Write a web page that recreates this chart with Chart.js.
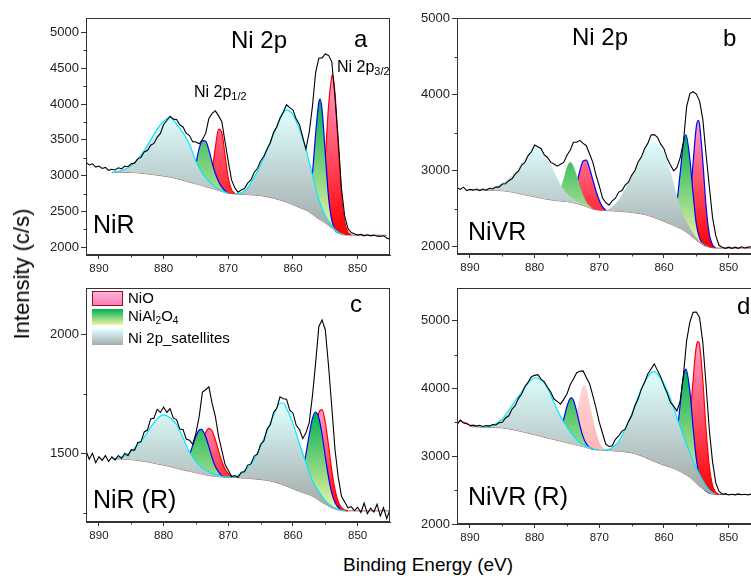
<!DOCTYPE html>
<html>
<head>
<meta charset="utf-8">
<script src="https://cdn.jsdelivr.net/npm/chart.js@4.4.0/dist/chart.umd.min.js"></script>
<style>
  body { margin: 0; width: 751px; height: 581px; overflow: hidden; background: #fff; position: relative;
         font-family: "Liberation Sans", Arial, sans-serif; }
  canvas { position: absolute; }
  .t { position: absolute; color: #000; white-space: nowrap; line-height: 1; z-index: 2; }
  .t sub { font-size: 0.68em; vertical-align: -0.3em; line-height: 0; }
  .sw { position: absolute; left: 92px; width: 31px; z-index: 2; box-sizing: border-box; }
</style>
</head>
<body>
<canvas id="pa" width="370" height="275" style="left:30px;top:0"></canvas>
<canvas id="pb" width="371" height="275" style="left:400px;top:0"></canvas>
<canvas id="pc" width="370" height="270" style="left:30px;top:275px"></canvas>
<canvas id="pd" width="371" height="270" style="left:400px;top:275px"></canvas>

<div class="t" style="font-size:24px;left:231px;top:28px">Ni 2p</div>
<div class="t" style="font-size:24px;left:354px;top:27px">a</div>
<div class="t" style="font-size:16px;left:194px;top:84px">Ni 2p<sub>1/2</sub></div>
<div class="t" style="font-size:16px;left:337px;top:59px">Ni 2p<sub>3/2</sub></div>
<div class="t" style="font-size:25px;left:93px;top:212px">NiR</div>

<div class="t" style="font-size:24px;left:572px;top:25px">Ni 2p</div>
<div class="t" style="font-size:24px;left:723px;top:26px">b</div>
<div class="t" style="font-size:25px;left:468px;top:219px">NiVR</div>

<div class="t" style="font-size:24px;left:350px;top:292px">c</div>
<div class="t" style="font-size:25px;left:93px;top:487px">NiR (R)</div>
<div class="sw" style="top:291px;height:15px;border:1px solid #9a1020;background:linear-gradient(#ffb4dc,#ff7eb4)"></div>
<div class="sw" style="top:309px;height:16px;background:linear-gradient(#00b050,#f4f4a8)"></div>
<div class="sw" style="top:329px;height:16px;background:linear-gradient(#e0ffff,#a4acac)"></div>
<div class="t" style="font-size:15px;left:128px;top:290px">NiO</div>
<div class="t" style="font-size:15px;left:128px;top:308px">NiAl<sub>2</sub>O<sub>4</sub></div>
<div class="t" style="font-size:15px;left:128px;top:330px">Ni 2p_satellites</div>

<div class="t" style="font-size:24px;left:737px;top:294px">d</div>
<div class="t" style="font-size:25px;left:468px;top:484px">NiVR (R)</div>

<div class="t" style="font-size:22px;left:22px;top:274px;transform:translate(-50%,-50%) rotate(-90deg)">Intensity (c/s)</div>
<div class="t" style="font-size:19px;left:343px;top:555px">Binding Energy (eV)</div>

<script>
// ---- shared axis values ----
const xTicks = [890, 880, 870, 860, 850];
const xMinor = [885, 875, 865, 855];

// energy grid of the measured spectra (eV)
const expE = [
  892, 891.5, 891, 890.5, 890, 889.5, 889, 888.5, 888, 887.5,
  887, 886.5, 886, 885.5, 885, 884.5, 884, 883.5, 883, 882.5,
  882, 881.5, 881, 880.5, 880, 879.5, 879, 878.5, 878, 877.5,
  877, 876.5, 876, 875.5, 875, 874.5, 874, 873.5, 873, 872.5,
  872, 871.5, 871, 870.5, 870, 869.5, 869, 868.5, 868, 867.5,
  867, 866.5, 866, 865.5, 865, 864.5, 864, 863.5, 863, 862.5,
  862, 861.5, 861, 860.5, 860, 859.5, 859, 858.5, 858, 857.5,
  857, 856.5, 856, 855.5, 855, 854.5, 854, 853.5, 853, 852.5,
  852, 851.5, 851, 850.5, 850, 849.5, 849, 848.5, 848, 847.5,
  847, 846.5, 846, 845.5, 845
];

// ---- panel a : NiR ----
const aExp = [
  3185, 3150, 3165, 3120, 3135, 3100, 3115, 3075, 3090, 3080,
  3110, 3095, 3135, 3125, 3165, 3175, 3235, 3255, 3330, 3350,
  3425, 3450, 3535, 3590, 3715, 3770, 3830, 3790, 3785, 3710,
  3680, 3590, 3560, 3475, 3470, 3445, 3505, 3590, 3800, 3870,
  3905, 3835, 3755, 3470, 3195, 2940, 2830, 2770, 2800, 2820,
  2895, 2940, 3045, 3100, 3205, 3270, 3375, 3460, 3605, 3680,
  3805, 3890, 3990, 3950, 3915, 3790, 3715, 3540, 3370, 3600,
  3960, 4440, 4640, 4645, 4700, 4680, 4590, 4090, 3500, 2820,
  2430, 2260, 2205, 2190, 2170, 2180, 2160, 2175, 2160, 2170,
  2155, 2150, 2160, 2130, 2110
];
const aBg = [[888,3048],[887,3047],[886,3046],[885,3045],[884,3040],[883,3030],[882,3020],[881,3008],[880,2995],[879,2980],
  [878,2960],[877,2935],[876,2910],[875,2885],[874,2860],[873,2835],[872,2808],[871,2780],[870,2755],[869,2745],
  [868,2740],[867,2735],[866,2730],[865,2722],[864,2705],[863,2685],[862,2660],[861,2630],[860,2595],[859,2555],
  [858,2520],[857,2460],[856,2395],[855,2340],[854,2270],[853,2200],[852,2172],[851,2170],[850,2170],[849,2170],
  [848,2168],[847,2168],[846,2168],[845.5,2168]];
const aSat1 = [[888,3048],[887,3060],[886,3090],[885,3140],[884,3230],[883,3350],[882,3500],[881,3650],[880,3760],[879,3815],
  [878,3720],[877,3600],[876,3440],[875,3200],[874,3030],[873,2920],[872,2840],[871,2790],[870,2757]];
const aSat2 = [[869,2745],[868,2760],[867,2830],[866,2980],[865,3150],[864,3360],[863,3580],[862,3790],[861,3920],[860,3850],
  [859,3650],[858,3370],[857,3010],[856,2660],[855,2440],[854,2300],[853,2210],[852,2175]];
const aAl1 = [[876,2910],[875.5,3000],[875,3170],[874.5,3380],[874,3490],[873.5,3480],[873,3360],[872.5,3180],[872,3030],
  [871.5,2920],[871,2840],[870.5,2790],[870,2755]];
const aAl2 = [[858,2540],[857.5,2680],[857,3020],[856.5,3580],[856,4030],[855.8,4069],[855.5,3920],[855,3300],[854.5,2700],
  [854,2380],[853.5,2250],[853,2200]];
const aNiO1 = [[873.5,2840],[873,2910],[872.5,3080],[872,3395],[871.5,3650],[871,3600],[870.5,3285],[870,2965],[869.5,2805],[869,2750]];
const aNiO2 = [[856.5,2430],[856,2495],[855.5,2730],[855,3260],[854.5,3970],[854,4385],[853.9,4409],[853.5,4150],[853,3415],
  [852.5,2725],[852,2350],[851.5,2210],[851,2175]];

// ---- panel b : NiVR ----
const bExp = [
  2780, 2755, 2785, 2740, 2755, 2745, 2760, 2740, 2760, 2745,
  2770, 2760, 2785, 2785, 2825, 2830, 2870, 2895, 2955, 2995,
  3075, 3110, 3200, 3250, 3340, 3315, 3290, 3210, 3175, 3110,
  3090, 3060, 3085, 3110, 3205, 3270, 3375, 3375, 3400, 3360,
  3330, 3220, 3110, 2940, 2800, 2640, 2580, 2550, 2605, 2640,
  2720, 2740, 2810, 2850, 2940, 3000, 3115, 3180, 3290, 3360,
  3470, 3475, 3440, 3350, 3290, 3160, 3075, 3000, 3045, 3170,
  3375, 3840, 4015, 4040, 4010, 3920, 3680, 3220, 2800, 2390,
  2150, 2020, 1995, 1980, 1995, 1980, 1995, 1980, 2000, 1985,
  1995, 2000, 1965, 1995, 1975
];
const bBg = [[890,2750],[889,2748],[888,2746],[887,2744],[886,2742],[885,2738],[884,2728],[883,2712],[882,2692],[881,2675],
  [880,2658],[879,2640],[878,2624],[877,2612],[876,2602],[875,2594],[874,2580],[873,2558],[872,2530],[871,2497],
  [870,2482],[869,2477],[868,2472],[867,2468],[866,2462],[865,2452],[864,2440],[863,2425],[862,2400],[861,2370],
  [860,2335],[859,2300],[858,2262],[857,2220],[856,2158],[855,2085],[854,2030],[853,1995],[852,1983],[851,1982],
  [850,1982],[849,1982],[848,1982],[847,1982],[846,1982],[845,1982]];
const bSat1 = [[890,2750],[889,2752],[888,2760],[887,2775],[886,2800],[885,2840],[884,2900],[883,2990],[882,3110],[881,3240],
  [880,3325],[879,3280],[878,3160],[877,2990],[876,2820],[875,2700],[874,2630],[873,2580],[872,2540],[871,2500]];
const bSat2 = [[869.5,2478],[869,2480],[868,2530],[867,2620],[866,2760],[865,2930],[864,3110],[863,3270],[862,3380],[861.5,3390],
  [861,3360],[860,3240],[859,3000],[858,2670],[857,2420],[856,2250],[855,2120],[854,2045],[853,1998],[852,1984]];
const bAl1 = [[876.5,2610],[876,2760],[875.5,2900],[875,3050],[874.5,3115],[874,3060],[873.5,2940],[873,2800],[872.5,2680],
  [872,2590],[871.5,2540],[871,2497]];
const bAl2 = [[859,2300],[858.5,2386],[858,2589],[857.5,2966],[857,3360],[856.6,3474],[856,3152],[855.5,2700],[855,2300],
  [854.5,2117],[854,2040],[853.5,2010]];
const bNiO1 = [[874.5,2590],[874,2640],[873.5,2820],[873,3000],[872.5,3130],[872,3140],[871.5,3030],[871,2880],[870.5,2730],
  [870,2610],[869.5,2525],[869,2480]];
const bNiO2 = [[857,2247],[856.5,2323],[856,2595],[855.5,3100],[855,3578],[854.7,3662],[854.5,3607],[854,3128],[853.5,2540],
  [853,2170],[852.5,2026],[852,1985]];

// ---- panel c : NiR (R) ----
const cExp = [
  1510, 1475, 1500, 1460, 1485, 1470, 1490, 1465, 1485, 1472,
  1490, 1478, 1500, 1490, 1515, 1512, 1545, 1548, 1590, 1598,
  1645, 1648, 1685, 1672, 1695, 1672, 1688, 1648, 1642, 1602,
  1600, 1560, 1555, 1538, 1585, 1655, 1758, 1768, 1780, 1710,
  1655, 1570, 1512, 1452, 1428, 1402, 1406, 1398, 1420, 1422,
  1450, 1455, 1488, 1496, 1538, 1552, 1602, 1620, 1672, 1690,
  1738, 1730, 1728, 1682, 1670, 1618, 1600, 1562, 1585, 1628,
  1740, 1880, 2035, 2062, 2020, 1868, 1695, 1515, 1398, 1318,
  1294, 1270, 1275, 1258, 1272, 1250, 1290, 1245, 1268, 1252,
  1285, 1235, 1270, 1225, 1262
];
const cBg = [[888,1477],[887,1476],[886,1475],[885,1473],[884,1470],[883,1466],[882,1461],[881,1455],[880,1450],[879,1444],
  [878,1437],[877,1430],[876,1424],[875,1418],[874,1412],[873,1406],[872,1402],[871,1400],[870,1399],[869,1398],
  [868,1396],[867,1394],[866,1392],[865,1389],[864,1386],[863,1380],[862,1372],[861,1361],[860,1350],[859,1339],
  [858,1330],[857,1319],[856,1302],[855,1285],[854,1270],[853,1261],[852,1257],[851,1257],[850,1257],[849,1257],
  [848,1257],[847,1257],[846,1257],[845,1257]];
const cSat1 = [[888,1477],[887,1480],[886,1490],[885,1508],[884,1535],[883,1568],[882,1610],[881,1645],[880,1662],[879,1650],
  [878,1620],[877,1565],[876,1505],[875,1465],[874,1438],[873,1422],[872,1410],[871,1403],[870,1399]];
const cSat2 = [[870,1399],[869,1400],[868,1415],[867,1440],[866,1475],[865,1530],[864,1595],[863,1660],[862,1711],[861.5,1712],
  [861,1690],[860,1625],[859,1540],[858,1460],[857,1385],[856,1338],[855,1300],[854,1276],[853,1263],[852,1258]];
const cAl1 = [[876,1493],[875.5,1533],[875,1572],[874.5,1598],[874.2,1601],[874,1598],[873.5,1571],[873,1527],[872.5,1481],
  [872,1444],[871.5,1421],[871,1405],[870.5,1400]];
const cAl2 = [[859,1385],[858.5,1429],[858,1496],[857.5,1576],[857,1646],[856.5,1674],[856,1649],[855.5,1579],[855,1485],
  [854.5,1398],[854,1332],[853.5,1292],[853,1271],[852.5,1258]];
const cNiO1 = [[875,1469],[874.5,1505],[874,1549],[873.5,1587],[873,1605],[872.5,1594],[872,1557],[871.5,1510],[871,1466],
  [870.5,1433],[870,1414],[869.5,1404],[869,1399]];
const cNiO2 = [[858,1381],[857.5,1434],[857,1514],[856.5,1603],[856,1671],[855.5,1684],[855,1629],[854.5,1533],[854,1428],
  [853.5,1347],[853,1297],[852.5,1271],[852,1261],[851.5,1257]];

// ---- panel d : NiVR (R) ----
const dExp = [
  3465, 3530, 3490, 3480, 3455, 3460, 3445, 3458, 3440, 3455,
  3445, 3468, 3462, 3495, 3502, 3565, 3598, 3695, 3748, 3855,
  3920, 4030, 4095, 4175, 4195, 4205, 4140, 4100, 4015, 3950,
  3845, 3810, 3770, 3840, 3920, 4055, 4140, 4235, 4255, 4260,
  4165, 4070, 3895, 3710, 3500, 3340, 3180, 3145, 3155, 3250,
  3300, 3372, 3400, 3512, 3598, 3742, 3845, 3992, 4090, 4215,
  4290, 4365, 4265, 4172, 4040, 3930, 3795, 3740, 3670, 3815,
  4190, 4705, 4980, 5125, 5130, 5050, 4685, 4060, 3400, 2925,
  2610, 2485, 2440, 2448, 2428, 2440, 2430, 2445, 2432, 2440,
  2428, 2445, 2435, 2440, 2432
];
const dEdge = [[892,3470],[891.5,3540],[891,3505],[890.5,3492],[890,3462]];
const dBg = [[890,3440],[889,3435],[888,3430],[887,3428],[886,3425],[885,3420],[884,3405],[883,3388],[882,3365],[881,3342],
  [880,3318],[879,3295],[878,3270],[877,3248],[876,3225],[875,3200],[874,3178],[873,3155],[872,3130],[871,3102],
  [870,3093],[869,3087],[868,3082],[867,3075],[866,3066],[865,3050],[864,3025],[863,2985],[862,2945],[861,2905],
  [860,2868],[859,2838],[858,2800],[857,2750],[856,2690],[855,2600],[854,2520],[853,2455],[852,2437],[851,2435],
  [850,2435],[849,2435],[848,2435],[847,2435],[846,2435],[845,2435]];
const dSat1 = [[888,3430],[887,3445],[886,3480],[885,3550],[884,3680],[883,3820],[882,3950],[881,4080],[880,4160],[879,4130],
  [878,4010],[877,3790],[876,3590],[875,3430],[874,3300],[873,3200],[872,3150],[871,3110],[870,3094]];
const dSat2 = [[869.5,3090],[869,3092],[868,3130],[867,3220],[866,3400],[865,3620],[864,3880],[863,4100],[862,4230],[861.5,4249],
  [861,4210],[860,4070],[859,3850],[858,3570],[857,3300],[856,3050],[855,2830],[854,2640],[853,2500],[852.5,2460],[852,2440]];
const dAl1 = [[876,3394],[875.5,3551],[875,3735],[874.5,3854],[874.3,3863],[874,3828],[873.5,3664],[873,3456],[872.5,3286],
  [872,3183],[871.5,3132],[871,3103]];
const dAl2 = [[859,2896],[858.5,3018],[858,3310],[857.5,3761],[857,4180],[856.6,4288],[856,3966],[855.5,3429],[855,2961],
  [854.5,2685],[854,2553],[853.5,2488],[853,2455]];
const dNiO1 = [[874.5,3278],[874,3406],[873.5,3623],[873,3877],[872.5,4040],[872.3,4051],[872,4006],[871.5,3788],[871,3560],
  [870.5,3360],[870,3210],[869.5,3130],[869,3090]];
const dNiO2 = [[857,2853],[856.5,3053],[856,3501],[855.5,4124],[855,4627],[854.7,4694],[854.5,4645],[854,4131],[853.5,3405],
  [853,2863],[852.5,2573],[852,2470],[851.5,2440]];

// ---- drawing ----
Chart.defaults.font.family = '"Liberation Sans", Arial, sans-serif';

const fillColors = {
  sat: ['#e0ffff', '#9fa7a7'],
  nial: ['#00b050', '#f4f4a8'],
  nio: ['#ff9ccc', '#ff0000'],
  pale: ['#ffd6d6', '#ffb6b6']
};

const pairs = arr => arr.map(p => ({ x: p[0], y: p[1] }));
const onGrid = ys => ys.map((y, i) => ({ x: expE[i], y: y }));

// one gradient per component type, spanning all peaks of that type in the panel
function kindGradient(c) {
  const chart = c.chart;
  const ds = c.dataset;
  const cols = fillColors[ds.kind];
  if (!chart.chartArea) return cols[0];
  let hi = -Infinity, lo = Infinity;
  chart.data.datasets.forEach(d => {
    if (d.kind !== ds.kind) return;
    d.data.forEach(p => { hi = Math.max(hi, p.y); lo = Math.min(lo, p.y); });
  });
  const ys = chart.scales.y;
  const g = chart.ctx.createLinearGradient(0, ys.getPixelForValue(hi), 0, ys.getPixelForValue(lo));
  g.addColorStop(0, cols[0]);
  g.addColorStop(1, cols[1]);
  return g;
}

const boxPlugin = {
  id: 'box',
  afterDatasetsDraw(chart, args, opts) {
    const { ctx, chartArea: a, scales } = chart;
    ctx.save();
    ctx.strokeStyle = '#333';
    ctx.lineWidth = 1;
    ctx.strokeRect(Math.round(a.left) + 0.5, Math.round(a.top) + 0.5,
                   Math.round(a.right - a.left) - 1, Math.round(a.bottom - a.top) - 1);
    ctx.beginPath();
    xMinor.forEach(v => {
      const x = Math.round(scales.x.getPixelForValue(v)) + 0.5;
      ctx.moveTo(x, a.bottom); ctx.lineTo(x, a.bottom + 2.5);
    });
    (opts.yMinor || []).forEach(v => {
      const y = Math.round(scales.y.getPixelForValue(v)) + 0.5;
      ctx.moveTo(a.left - 2.5, y); ctx.lineTo(a.left, y);
    });
    ctx.stroke();
    ctx.restore();
  }
};

function peak(data, kind, line) {
  return {
    kind: kind,
    data: pairs(data),
    borderColor: line || 'rgba(0,0,0,0)',
    borderWidth: line ? 1.2 : 0,
    backgroundColor: kindGradient,
    cubicInterpolationMode: 'monotone'
  };
}

function drawPanel(id, p) {
  const datasets = [
    { data: onGrid(p.exp), borderColor: '#000', borderWidth: 1.1, tension: 0, fill: false }
  ].concat(p.extra || [], p.peaks, [
    { data: pairs(p.bg), borderColor: '#a86060', borderWidth: 1, cubicInterpolationMode: 'monotone', fill: false }
  ]);
  const bgIndex = datasets.length - 1;
  datasets.forEach(d => {
    d.pointRadius = 0;
    if (d.kind) d.fill = bgIndex;
  });

  new Chart(document.getElementById(id), {
    type: 'line',
    data: { datasets: datasets },
    options: {
      responsive: false,
      animation: false,
      events: [],
      layout: { padding: { top: p.padTop, right: p.padRight, left: 0, bottom: 0 } },
      plugins: { legend: { display: false }, tooltip: { enabled: false }, box: { yMinor: p.yMinor } },
      scales: {
        x: {
          type: 'linear', reverse: true, min: 845, max: 892,
          afterBuildTicks: s => { s.ticks = xTicks.map(v => ({ value: v })); },
          afterFit: s => { s.height = p.xH; },
          grid: { drawOnChartArea: false, tickLength: 4, color: '#333' },
          border: { color: '#333' },
          ticks: { font: { size: 11.5 }, color: '#222', padding: 3, maxRotation: 0, autoSkip: false,
                   callback: v => String(v) }
        },
        y: {
          type: 'linear', min: p.yMin, max: p.yMax,
          afterBuildTicks: s => { s.ticks = p.yTicks.map(v => ({ value: v })); },
          afterFit: s => { s.width = p.yW; },
          grid: { drawOnChartArea: false, tickLength: 5, color: '#333' },
          border: { color: '#333' },
          ticks: { font: { size: 13 }, color: '#222', padding: 2, autoSkip: false,
                   callback: v => String(v) }
        }
      }
    },
    plugins: [boxPlugin]
  });
}

drawPanel('pa', {
  exp: aExp, bg: aBg, yMin: 1892, yMax: 5202,
  yTicks: [2000, 2500, 3000, 3500, 4000, 4500, 5000], yMinor: [2250, 2750, 3250, 3750, 4250, 4750],
  padTop: 18, padRight: 10, yW: 56, xH: 20,
  peaks: [peak(aSat1, 'sat', '#00e8ff'), peak(aSat2, 'sat', '#00e8ff'),
          peak(aAl1, 'nial', '#0000ff'), peak(aAl2, 'nial', '#0000ff'),
          peak(aNiO1, 'nio', '#ff0000'), peak(aNiO2, 'nio', '#ff0000')]
});

drawPanel('pb', {
  exp: bExp, bg: bBg, yMin: 1905, yMax: 5010,
  yTicks: [2000, 3000, 4000, 5000], yMinor: [2500, 3500, 4500],
  padTop: 18, padRight: 10, yW: 57, xH: 21,
  peaks: [peak(bSat1, 'sat'), peak(bSat2, 'sat'),
          peak(bAl1, 'nial'), peak(bAl2, 'nial', '#0000ff'),
          peak(bNiO1, 'nio', '#0000ff'), peak(bNiO2, 'nio', '#0000ff')]
});

drawPanel('pc', {
  exp: cExp, bg: cBg, yMin: 1210, yMax: 2197,
  yTicks: [1500, 2000], yMinor: [1250, 1750],
  padTop: 13, padRight: 10, yW: 56, xH: 23,
  peaks: [peak(cSat1, 'sat', '#00e8ff'), peak(cSat2, 'sat', '#00e8ff'),
          peak(cAl1, 'nial', '#0000ff'), peak(cAl2, 'nial', '#0000ff'),
          peak(cNiO1, 'nio', '#ff0000'), peak(cNiO2, 'nio', '#ff0000')]
});

drawPanel('pd', {
  exp: dExp, bg: dBg, yMin: 2000, yMax: 5485,
  yTicks: [2000, 3000, 4000, 5000], yMinor: [2500, 3500, 4500],
  padTop: 13, padRight: 10, yW: 57, xH: 21,
  extra: [{ data: pairs(dEdge), borderColor: '#ff2020', borderWidth: 1, tension: 0, fill: false }],
  peaks: [peak(dSat1, 'sat', '#00e8ff'), peak(dSat2, 'sat', '#00e8ff'),
          peak(dAl1, 'nial', '#0000ff'), peak(dAl2, 'nial', '#0000ff'),
          peak(dNiO1, 'pale'), peak(dNiO2, 'nio', '#ff0000')]
});
</script>
</body>
</html>
